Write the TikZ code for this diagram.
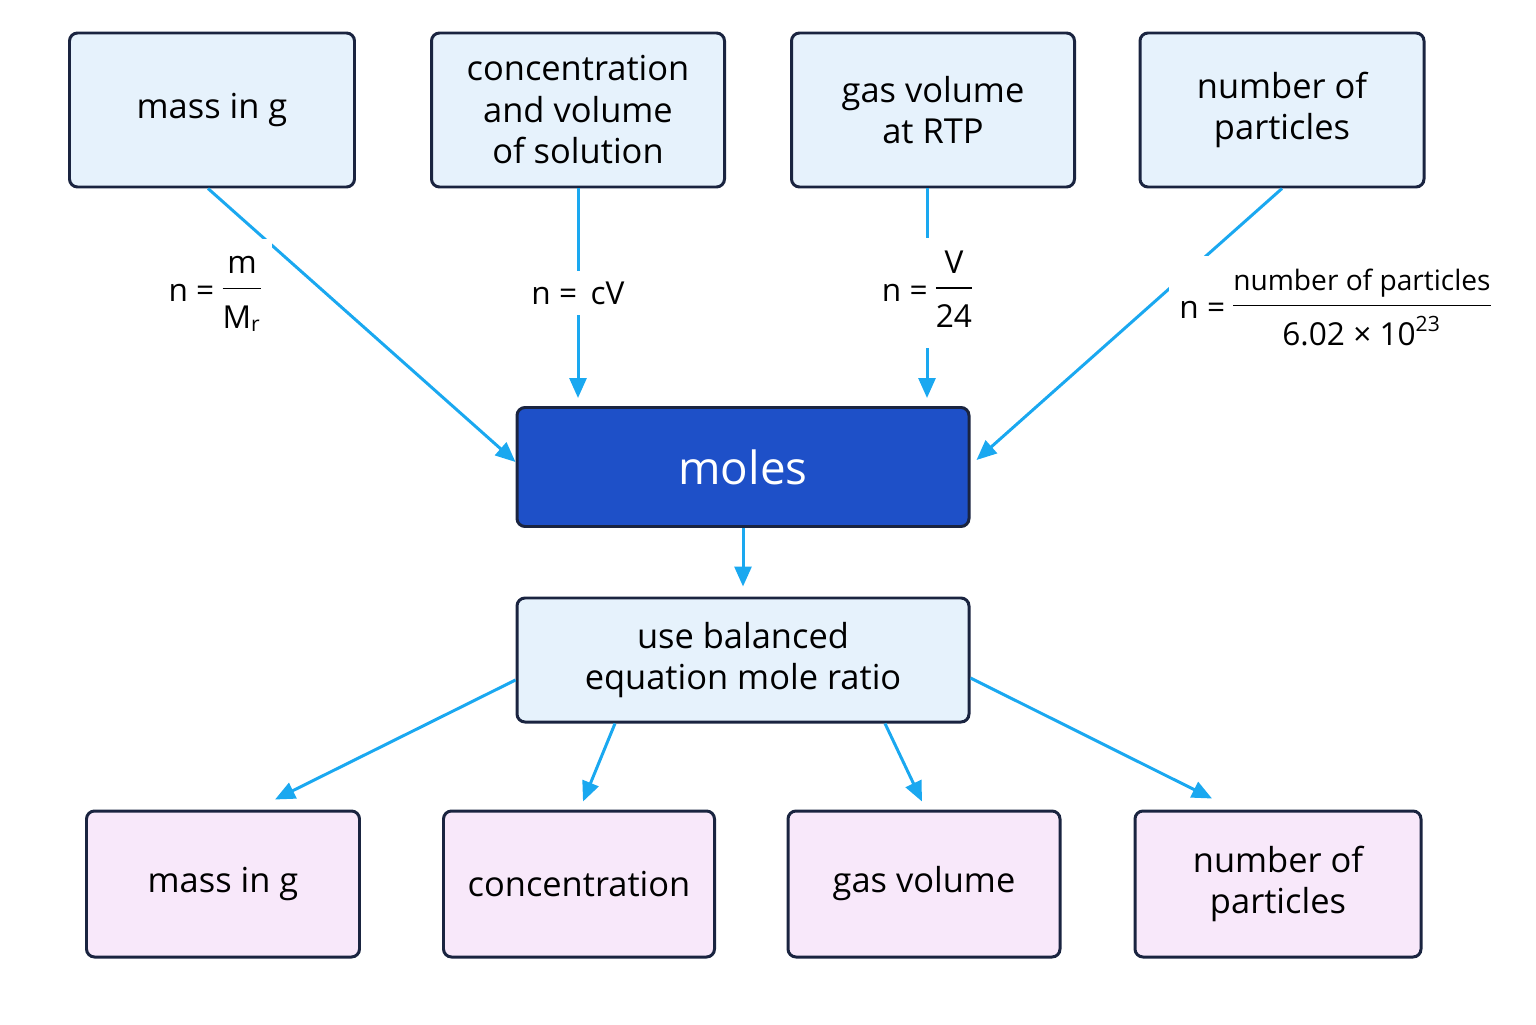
\documentclass[tikz,border=0pt]{standalone}
\usepackage{fontspec}
\setmainfont{Open Sans}
\usetikzlibrary{arrows.meta}
\definecolor{boxedge}{RGB}{26,36,64}
\definecolor{srcfill}{RGB}{230,242,252}
\definecolor{molfill}{RGB}{30,80,200}
\definecolor{outfill}{RGB}{248,232,250}
\definecolor{arrowblue}{RGB}{26,168,240}

\begin{document}
\begin{tikzpicture}[font=\fontsize{9.8pt}{11.8pt}\selectfont]

%
% Styles
%
\tikzset{
  srcbox/.style = {rectangle,rounded corners=0.08cm,draw=boxedge,line width=0.85pt,fill=srcfill,
                   minimum height=1.54cm,align=center,inner sep=2pt},
  outbox/.style = {rectangle,rounded corners=0.08cm,draw=boxedge,line width=0.85pt,fill=outfill,
                   minimum height=1.46cm,align=center,inner sep=2pt},
  conv/.style   = {draw=arrowblue,line width=0.85pt,-{Triangle[length=0.2cm,width=0.17cm]}},
  formula/.style = {fill=white,inner sep=3pt,font=\fontsize{9pt}{10pt}\selectfont}
}

\useasboundingbox (0,0) rectangle (15.36,10.24);

% sources
\node[srcbox,minimum width=2.85cm] (m1) at ( 2.12, 9.14) {mass in g};
\node[srcbox,minimum width=2.93cm] (c1) at ( 5.78, 9.14) {concentration\\and volume\\of solution};
\node[srcbox,minimum width=2.83cm] (g1) at ( 9.33, 9.14) {gas volume\\at RTP};
\node[srcbox,minimum width=2.84cm] (p1) at (12.82, 9.14) {number of\\particles};

% centre
\node[rectangle,rounded corners=0.08cm,draw=boxedge,line width=0.85pt,fill=molfill,text=white,
      minimum width=4.52cm,minimum height=1.19cm,font=\fontsize{13pt}{15pt}\selectfont] (moles) at (7.43, 5.57) {moles};
\node[srcbox,minimum width=4.52cm,minimum height=1.24cm] (bal) at (7.43, 3.64) {use balanced\\equation mole ratio};

% results
\node[outbox,minimum width=2.73cm] (b1) at ( 2.23, 1.40) {mass in g};
\node[outbox,minimum width=2.71cm] (b2) at ( 5.79, 1.40) {concentration};
\node[outbox,minimum width=2.72cm] (b3) at ( 9.24, 1.40) {gas volume};
\node[outbox,minimum width=2.86cm] (b4) at (12.78, 1.40) {number of\\particles};

% into moles
\coordinate (cin) at ([yshift=0.08cm]c1.south |- moles.north);
\coordinate (gout) at ([xshift=-0.06cm]g1.south);
\coordinate (gin) at ([yshift=0.08cm]gout |- moles.north);
\draw[conv] ([xshift=-0.04cm]m1.south) -- ([yshift=0.05cm]moles.west);
\draw[conv] (c1.south) -- node[formula] {n = \,cV} (cin);
\draw[conv] (gout) -- node[formula] {n = \begin{tabular}{@{}c@{}}V\\[1pt]\hline \rule{0pt}{11pt}24\end{tabular}} (gin);
\draw[conv] (p1.south) -- ([xshift=0.06cm,yshift=0.07cm]moles.east);
\node[formula] (f1) at (2.15, 7.3) {n = \begin{tabular}{@{}c@{}}m\\[1pt]\hline \rule{0pt}{11pt}M\textsubscript{r}\end{tabular}};
\node[formula] (f4) at (13.35, 7.13) {n = \begin{tabular}{@{}c@{}}\fontsize{8pt}{9pt}\selectfont number of particles\\[1pt]\hline \rule{0pt}{11pt}6.02 × 10\textsuperscript{23}\end{tabular}};

\draw[conv] (moles.south) -- ([yshift=0.1cm]bal.north);

% out of ratio
\draw[conv] ([yshift=-0.2cm]bal.west) -- ([xshift=0.52cm,yshift=0.1cm]b1.north);
\draw[conv] ([xshift=-1.28cm]bal.south) -- ([xshift=0.04cm,yshift=0.08cm]b2.north);
\draw[conv] ([xshift=1.42cm]bal.south) -- ([xshift=-0.02cm,yshift=0.08cm]b3.north);
\draw[conv] ([yshift=-0.18cm]bal.east) -- ([xshift=-0.66cm,yshift=0.11cm]b4.north);

\end{tikzpicture}
\end{document}
